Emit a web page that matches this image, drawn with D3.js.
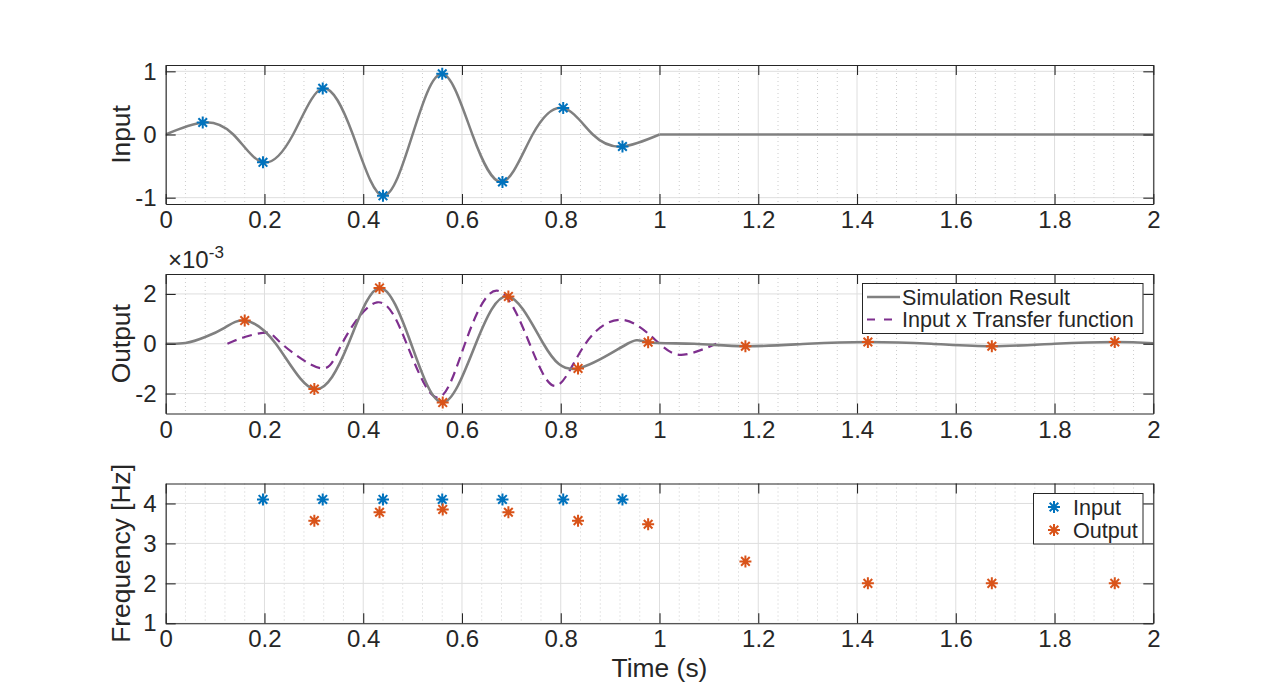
<!DOCTYPE html>
<html>
<head>
<meta charset="utf-8">
<script src="https://cdn.jsdelivr.net/npm/d3@7"></script>
<style>
  body { margin: 0; background: #fff; }
  text { font-family: "Liberation Sans", Arial, Helvetica, sans-serif; fill: #262626; }
</style>
</head>
<body>
<div id="chart"></div>
<script>

// x ticks shared by the three panels
var timeTicks = [0, 0.2, 0.4, 0.6, 0.8, 1, 1.2, 1.4, 1.6, 1.8, 2];

// top panel: input signal, burst then flat tail
var inputT = [0, 0.075, 0.137, 0.197, 0.258, 0.318, 0.379, 0.44, 0.5, 0.56, 0.621, 0.682, 0.743, 0.805, 0.865, 0.925, 1.0];
var inputV = [0, 0.19, 0, -0.44, 0, 0.73, 0, -0.97, 0, 0.96, 0, -0.75, 0, 0.42, 0, -0.19, 0];
var tailT = [1.0, 2.0];
var tailV = [0, 0];
var inputPeakT = [0.075, 0.197, 0.318, 0.44, 0.56, 0.682, 0.805, 0.925];
var inputPeakV = [0.19, -0.44, 0.73, -0.97, 0.96, -0.75, 0.42, -0.19];

// middle panel, values in units of 1e-3
var simT = [0, 0.04, 0.08, 0.12, 0.16, 0.223, 0.301, 0.37, 0.433, 0.497, 0.561, 0.628, 0.694, 0.765, 0.835, 0.935, 0.977, 1.07, 1.174, 1.30, 1.422, 1.55, 1.673, 1.80, 1.922, 2.0];
var simV = [0, 0.03, 0.27, 0.65, 0.93, 0, -1.82, 0, 2.24, 0, -2.36, 0, 1.90, 0, -0.99, 0, 0.06, 0, -0.1, 0, 0.07, 0, -0.1, 0, 0.07, 0.02];
var tfT = [0.125, 0.16, 0.205, 0.235, 0.313, 0.357, 0.428, 0.488, 0.55, 0.606, 0.671, 0.737, 0.791, 0.85, 0.928, 1.0, 1.049, 1.115];
var tfV = [0, 0.27, 0.45, 0, -0.98, 0, 1.66, 0, -2.16, 0, 2.13, 0, -1.69, 0, 0.95, 0, -0.44, 0];
var outPeakT = [0.160, 0.301, 0.433, 0.561, 0.694, 0.835, 0.977, 1.174, 1.422, 1.673, 1.922];
var outPeakV = [0.93, -1.82, 2.24, -2.36, 1.90, -0.99, 0.06, -0.1, 0.07, -0.1, 0.07];

// bottom panel: frequency estimates
var freqInT = [0.197, 0.318, 0.44, 0.56, 0.682, 0.805, 0.925];
var freqInV = [4.1, 4.1, 4.1, 4.1, 4.1, 4.1, 4.1];
var freqOutT = [0.301, 0.433, 0.561, 0.694, 0.835, 0.977, 1.174, 1.422, 1.673, 1.922];
var freqOutV = [3.57, 3.78, 3.85, 3.78, 3.57, 3.48, 2.55, 2.0, 2.0, 2.0];

var blue = '#0072BD', orange = '#D95319', gray = '#808080', purple = '#7E2F8E', ink = '#262626';

var svg = d3.select('#chart').append('svg')
  .attr('width', 1274)
  .attr('height', 700);

var x = d3.scaleLinear().domain([0, 2]).range([165.7, 1153.3]);

var minorT = d3.range(1, 50).filter(function(i){ return i % 5 != 0; }).map(function(i){ return i * 0.04; });

function zip(a, b){ return a.map(function(d, i){ return [d, b[i]]; }); }

function asterisk(r){
  var a = r * 0.72;
  return 'M' + (-r) + ',0H' + r + 'M0,' + (-r) + 'V' + r +
    'M' + (-a) + ',' + (-a) + 'L' + a + ',' + a + 'M' + (-a) + ',' + a + 'L' + a + ',' + (-a);
}

function panel(top, bottom, domain, yTicks, label, id){
  var y = d3.scaleLinear().domain(domain).range([bottom, top]);
  var g = svg.append('g');

  g.append('clipPath').attr('id', id)
    .append('rect').attr('x', x(0)).attr('y', top).attr('width', x(2) - x(0)).attr('height', bottom - top);

  // minor x grid
  g.selectAll('line.minor').data(minorT).enter().append('line')
    .attr('x1', function(d){ return x(d); }).attr('x2', function(d){ return x(d); })
    .attr('y1', top).attr('y2', bottom)
    .attr('stroke', '#cccccc').attr('stroke-width', 1).attr('stroke-dasharray', '1,3');
  // major grid
  g.selectAll('line.gx').data(timeTicks).enter().append('line')
    .attr('x1', function(d){ return x(d); }).attr('x2', function(d){ return x(d); })
    .attr('y1', top).attr('y2', bottom)
    .attr('stroke', '#dedede').attr('stroke-width', 1);
  g.selectAll('line.gy').data(yTicks).enter().append('line')
    .attr('x1', x(0)).attr('x2', x(2))
    .attr('y1', function(d){ return y(d); }).attr('y2', function(d){ return y(d); })
    .attr('stroke', '#dedede').attr('stroke-width', 1);

  var plot = g.append('g').attr('clip-path', 'url(#' + id + ')');
  var marks = g.append('g');

  var axes = g.append('g');
  axes.append('g').attr('transform', 'translate(0,' + bottom + ')')
    .call(d3.axisBottom(x).tickValues(timeTicks).tickSizeInner(-10).tickSizeOuter(0).tickPadding(7)
      .tickFormat(function(d){ return String(d); }));
  axes.append('g').attr('transform', 'translate(0,' + top + ')')
    .call(d3.axisTop(x).tickValues(timeTicks).tickSizeInner(-10).tickSizeOuter(0).tickFormat(''));
  axes.append('g').attr('transform', 'translate(' + x(0) + ',0)')
    .call(d3.axisLeft(y).tickValues(yTicks).tickSizeInner(-10).tickSizeOuter(0).tickPadding(9)
      .tickFormat(function(d){ return String(d); }));
  axes.append('g').attr('transform', 'translate(' + x(2) + ',0)')
    .call(d3.axisRight(y).tickValues(yTicks).tickSizeInner(-10).tickSizeOuter(0).tickFormat(''));
  axes.selectAll('path.domain, .tick line').attr('stroke', ink).attr('stroke-width', 1.1);
  axes.selectAll('.tick text').attr('font-size', 24).attr('fill', ink)
    .style('font-family', '"Liberation Sans", Arial, sans-serif');

  g.append('text')
    .attr('transform', 'translate(129.5,' + ((top + bottom) / 2) + ') rotate(-90)')
    .attr('text-anchor', 'middle')
    .attr('font-size', 26.4)
    .text(label);

  return { y: y, plot: plot, marks: marks, g: g };
}

function drawStars(p, pts, color){
  p.marks.selectAll(null).data(pts).enter().append('path')
    .attr('d', asterisk(6))
    .attr('transform', function(d){ return 'translate(' + x(d[0]) + ',' + p.y(d[1]) + ')'; })
    .attr('fill', 'none').attr('stroke', color).attr('stroke-width', 2);
}

// ---------- top: input ----------
var p1 = panel(65, 204, [-1.1, 1.1], [-1, 0, 1], 'Input', 'c1');
var line1 = d3.line().x(function(d){ return x(d[0]); }).y(function(d){ return p1.y(d[1]); }).curve(d3.curveNatural);
p1.plot.append('path').datum(zip(inputT, inputV))
  .attr('d', line1).attr('fill', 'none').attr('stroke', gray).attr('stroke-width', 2.5);
p1.plot.append('path').datum(zip(tailT, tailV))
  .attr('d', line1).attr('fill', 'none').attr('stroke', gray).attr('stroke-width', 2.5);
drawStars(p1, zip(inputPeakT, inputPeakV), blue);

// ---------- middle: output ----------
var p2 = panel(274, 413.5, [-2.8, 2.8], [-2, 0, 2], 'Output', 'c2');
var line2 = d3.line().x(function(d){ return x(d[0]); }).y(function(d){ return p2.y(d[1]); }).curve(d3.curveNatural);
p2.plot.append('path').datum(zip(tfT, tfV))
  .attr('d', line2).attr('fill', 'none').attr('stroke', purple).attr('stroke-width', 2.2)
  .attr('stroke-dasharray', '10,6');
p2.plot.append('path').datum(zip(simT, simV))
  .attr('d', line2).attr('fill', 'none').attr('stroke', gray).attr('stroke-width', 2.6);
drawStars(p2, zip(outPeakT, outPeakV), orange);

var expo = svg.append('text').attr('x', 168).attr('y', 268).attr('font-size', 24);
expo.append('tspan').text('\u00d710');
expo.append('tspan').attr('font-size', 17).attr('dy', -10).text('-3');

// legend (middle)
var lg2 = svg.append('g');
lg2.append('rect').attr('x', 862.5).attr('y', 283.5).attr('width', 280.5).attr('height', 50)
  .attr('fill', '#fff').attr('stroke', ink).attr('stroke-width', 1);
lg2.append('line').attr('x1', 867).attr('x2', 900).attr('y1', 297).attr('y2', 297)
  .attr('stroke', gray).attr('stroke-width', 2.6);
lg2.append('line').attr('x1', 867).attr('x2', 900).attr('y1', 319.5).attr('y2', 319.5)
  .attr('stroke', purple).attr('stroke-width', 2.2).attr('stroke-dasharray', '8,9');
lg2.append('text').attr('x', 902).attr('y', 297).attr('dy', '0.36em').attr('font-size', 21.6).text('Simulation Result');
lg2.append('text').attr('x', 902).attr('y', 319.5).attr('dy', '0.36em').attr('font-size', 21.6).text('Input x Transfer function');

// ---------- bottom: frequency ----------
var p3 = panel(483.5, 623.3, [1, 4.5], [1, 2, 3, 4], 'Frequency [Hz]', 'c3');
drawStars(p3, zip(freqInT, freqInV), blue);
drawStars(p3, zip(freqOutT, freqOutV), orange);

var lg3 = svg.append('g');
lg3.append('rect').attr('x', 1033.5).attr('y', 493.5).attr('width', 109.5).attr('height', 50.5)
  .attr('fill', '#fff').attr('stroke', ink).attr('stroke-width', 1);
[[blue, 'Input', 507], [orange, 'Output', 530]].forEach(function(e){
  lg3.append('path').attr('d', asterisk(6)).attr('transform', 'translate(1054,' + e[2] + ')')
    .attr('fill', 'none').attr('stroke', e[0]).attr('stroke-width', 2);
  lg3.append('text').attr('x', 1073).attr('y', e[2]).attr('dy', '0.36em').attr('font-size', 21.6).text(e[1]);
});

svg.append('text')
  .attr('x', x(1)).attr('y', 676.5)
  .attr('text-anchor', 'middle')
  .attr('font-size', 26.4)
  .text('Time (s)');

</script>
</body>
</html>
